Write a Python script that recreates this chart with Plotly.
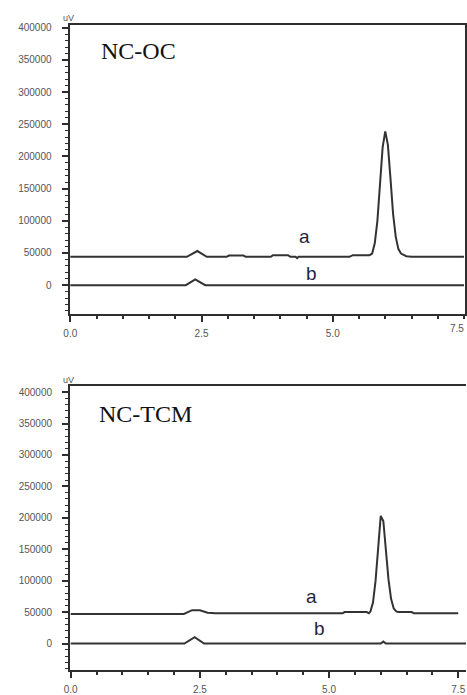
import plotly.graph_objects as go

W, H = 467, 695

# ---- NC-OC chromatograms (time in min, signal in uV) ----
oc_a_time = [0.0, 2.22, 2.42, 2.6, 2.98, 3.02, 3.3, 3.34, 3.82, 3.86, 4.15, 4.19, 4.29, 4.32, 4.35,
             5.32, 5.38, 5.7, 5.75, 5.8, 5.85, 5.9, 5.95, 6.0, 6.05, 6.1, 6.15, 6.2, 6.25, 6.3, 6.4, 6.5, 7.5]
oc_a_signal = [44000, 44000, 53000, 44000, 44000, 46000, 46000, 44000, 44000, 46500, 46500, 44000, 44000, 42000, 44000,
               44000, 46500, 46500, 49000, 65000, 100000, 156000, 214000, 239000, 218000, 165000, 110000, 75000, 56000, 49000, 45000, 44000, 44000]
oc_b_time = [0.0, 2.2, 2.38, 2.57, 7.5]
oc_b_signal = [0, 0, 9000, 0, 0]

# ---- NC-TCM chromatograms ----
tcm_a_time = [0.0, 2.19, 2.35, 2.5, 2.65, 2.8, 5.26, 5.3, 5.73, 5.77, 5.8, 5.85, 5.9, 5.95, 6.0, 6.05,
              6.1, 6.15, 6.2, 6.25, 6.3, 6.34, 6.6, 6.64, 7.5]
tcm_a_signal = [47000, 47000, 53000, 53000, 49000, 48000, 48000, 50000, 50000, 48000, 51000, 65000, 100000, 155000, 203000, 195000,
                150000, 102000, 71000, 56000, 51000, 50000, 50000, 48000, 48000]
tcm_b_time = [0.0, 2.2, 2.4, 2.58, 6.0, 6.05, 6.1, 7.65]
tcm_b_signal = [0, 0, 10000, 0, 0, 3000, 0, 0]

panel_titles = ["NC-OC", "NC-TCM"]
x_ticks = [0.0, 2.5, 5.0, 7.5]
y_ticks = [0, 50000, 100000, 150000, 200000, 250000, 300000, 350000, 400000]

line_col = "#333333"
axis_col = "#2e2e2e"
tick_font = dict(family="Liberation Sans, Arial", size=10, color="#555555")
letter_font = dict(family="Liberation Sans, Arial", size=19, color="#1f2640")
title_font = dict(family="Liberation Serif, Times New Roman", size=24, color="#111111")

fig = go.Figure()

panels = [
    dict(x="x", y="y", series=[(oc_a_time, oc_a_signal), (oc_b_time, oc_b_signal)]),
    dict(x="x2", y="y2", series=[(tcm_a_time, tcm_a_signal), (tcm_b_time, tcm_b_signal)]),
]
for p in panels:
    for t, s in p["series"]:
        fig.add_trace(go.Scatter(x=t, y=s, xaxis=p["x"], yaxis=p["y"], mode="lines",
                                 line=dict(color=line_col, width=2), showlegend=False,
                                 hoverinfo="skip"))

def xaxis_cfg(domain, rng, anchor, vals):
    return dict(domain=domain, range=rng, anchor=anchor, tickvals=vals,
                ticktext=[f"{v:.1f}" for v in vals], showgrid=False, zeroline=False,
                showline=True, linecolor=axis_col, linewidth=2, mirror=True,
                ticks="outside", ticklen=6, tickwidth=1.5, tickcolor=axis_col,
                minor=dict(dtick=0.5, tick0=0, ticks="outside", ticklen=3, tickwidth=1.5,
                           tickcolor=axis_col),
                ticklabelstandoff=3,
                tickfont=tick_font, fixedrange=True)

def yaxis_cfg(domain, rng, anchor, mirror):
    return dict(domain=domain, range=rng, anchor=anchor, tickvals=y_ticks,
                ticktext=[str(v) for v in y_ticks], showgrid=False, zeroline=False,
                showline=True, linecolor=axis_col, linewidth=2, mirror=mirror,
                ticks="outside", ticklen=6, tickwidth=1.5, tickcolor=axis_col,
                minor=dict(dtick=10000, tick0=0, ticks="outside", ticklen=3, tickwidth=1,
                           tickcolor=axis_col),
                ticklabelstandoff=8,
                tickfont=tick_font, fixedrange=True)

fig.update_layout(
    width=W, height=H,
    margin=dict(l=0, r=0, t=0, b=0),
    paper_bgcolor="white", plot_bgcolor="white",
    # the last label of the upper axis sits at the page edge and is drawn separately
    xaxis=xaxis_cfg([64.5 / W, 465.5 / W], [-0.015, 7.51], "y", x_ticks[:-1]),
    yaxis=yaxis_cfg([1 - 314 / H, 1 - 22.7 / H], [-44600, 403500], "x", True),
    xaxis2=xaxis_cfg([65 / W, 1.0], [-0.013, 7.65], "y2", x_ticks),
    yaxis2=yaxis_cfg([1 - 674 / H, 1 - 387 / H], [-42500, 409500], "x2", False),
)

annotations = [
    # panel titles
    dict(text=panel_titles[0], xref="paper", yref="paper", x=94 / W, y=1 - 48 / H,
         xanchor="left", yanchor="middle", showarrow=False, font=title_font),
    dict(text=panel_titles[1], xref="paper", yref="paper", x=92 / W, y=1 - 415 / H,
         xanchor="left", yanchor="middle", showarrow=False, font=title_font),
    # unit labels
    dict(text="uV", xref="paper", yref="paper", x=63 / W, y=1 - 15 / H,
         xanchor="center", yanchor="middle", showarrow=False, font=dict(tick_font, size=9)),
    dict(text="uV", xref="paper", yref="paper", x=63 / W, y=1 - 381 / H,
         xanchor="center", yanchor="middle", showarrow=False, font=dict(tick_font, size=9)),
    # end label of the upper time axis, kept inside the page
    dict(text=f"{x_ticks[-1]:.1f}", xref="paper", yref="paper", x=1.0, y=1 - 329 / H,
         xanchor="right", yanchor="middle", showarrow=False, font=tick_font),
    # trace letters
    dict(text="a", xref="x", yref="y", x=4.46, y=75000, showarrow=False, font=letter_font),
    dict(text="b", xref="x", yref="y", x=4.59, y=18500, showarrow=False, font=letter_font),
    dict(text="a", xref="x2", yref="y2", x=4.66, y=74000, showarrow=False, font=letter_font),
    dict(text="b", xref="x2", yref="y2", x=4.81, y=23600, showarrow=False, font=letter_font),
]
fig.update_layout(annotations=annotations)

fig.write_html("out.html")
